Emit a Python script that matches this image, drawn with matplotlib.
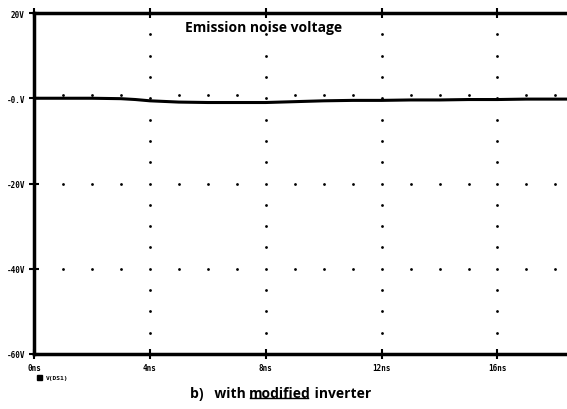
import numpy as np
import matplotlib
matplotlib.use("Agg")
import matplotlib.pyplot as plt

# data
time_ns = [0, 1, 2, 3, 3.5, 4, 5, 6, 7, 8, 9, 10, 11, 12, 13, 14, 15, 16, 17, 18.4]
v_ds1 = [0.0, 0.0, 0.0, -0.1, -0.3, -0.6, -0.9, -1.0, -1.0, -1.0, -0.8, -0.6, -0.5, -0.5, -0.4, -0.4, -0.3, -0.3, -0.2, -0.2]
xticks = [0, 4, 8, 12, 16]
xticklabels = ["0ns", "4ns", "8ns", "12ns", "16ns"]
yticks = [20, 0, -20, -40, -60]
yticklabels = ["20V", "-0.V", "-20V", "-40V", "-60V"]
title = "Emission noise voltage"
legend_label = "V(DS1)"

fig = plt.figure(figsize=(5.67, 4.10), dpi=100)
ax = fig.add_axes([34/567, 1-355/410, 1-34/567, (355-14)/410])
ax.set_xlim(0, 18.4)
ax.set_ylim(-60, 20)

# dotted grid
for xv in xticks[1:]:
    ys = np.arange(-55, 20, 5)
    ax.scatter([xv]*len(ys), ys, s=4, color="black", zorder=2, linewidths=0)
for yv in [0, -20, -40]:
    xs = np.arange(1, 18.5, 1)
    xs = [x for x in xs if x not in xticks]
    ax.scatter(xs, [yv + (0.8 if yv == 0 else 0)]*len(xs), s=4, color="black", zorder=2, linewidths=0)

ax.plot(time_ns, v_ds1, color="black", lw=2.2, zorder=3)

for side in ["left", "top", "bottom"]:
    ax.spines[side].set_linewidth(2.5)
ax.spines["right"].set_visible(False)

ax.set_xticks(xticks)
ax.set_xticklabels(xticklabels)
ax.set_yticks(yticks)
ax.set_yticklabels(yticklabels)
ax.tick_params(direction="inout", length=7, width=1.5, labelsize=5.5, pad=3)
ax.tick_params(axis="x", top=True)
for lab in ax.get_xticklabels() + ax.get_yticklabels():
    lab.set_fontweight("bold")
    lab.set_family("DejaVu Sans Mono")

ax.text(185/567, 1-28/410, title, transform=fig.transFigure, fontsize=10,
        fontweight="bold", family="Open Sans", va="center", ha="left")

# legend
fig.patches.append(plt.Rectangle((37/567, 1-381/410), 5/567, 5/410, transform=fig.transFigure,
                                 color="black"))
fig.text(46/567, 1-379/410, legend_label, fontsize=4.5, fontweight="bold",
         family="DejaVu Sans Mono", va="center", ha="left")

# caption
fig.canvas.draw()
r = fig.canvas.get_renderer()
cy = 1-394/410
t1 = fig.text(190/567, cy, "b)   with ", fontsize=10, fontweight="bold", family="Open Sans",
              va="center", ha="left")
bb = t1.get_window_extent(r)
x2 = bb.x1 / fig.bbox.width
t2 = fig.text(x2, cy, "modified", fontsize=10, fontweight="bold", family="Open Sans",
              va="center", ha="left")
bb2 = t2.get_window_extent(r)
x3 = bb2.x1 / fig.bbox.width
fig.text(x3, cy, " inverter", fontsize=10, fontweight="bold", family="Open Sans",
         va="center", ha="left")
uy = bb2.y0 / fig.bbox.height + 0.004
fig.add_artist(plt.Line2D([x2 + 1/567, x3 - 3/567], [uy, uy], transform=fig.transFigure,
                          color="black", lw=1))

fig.savefig("out.png", dpi=100)
